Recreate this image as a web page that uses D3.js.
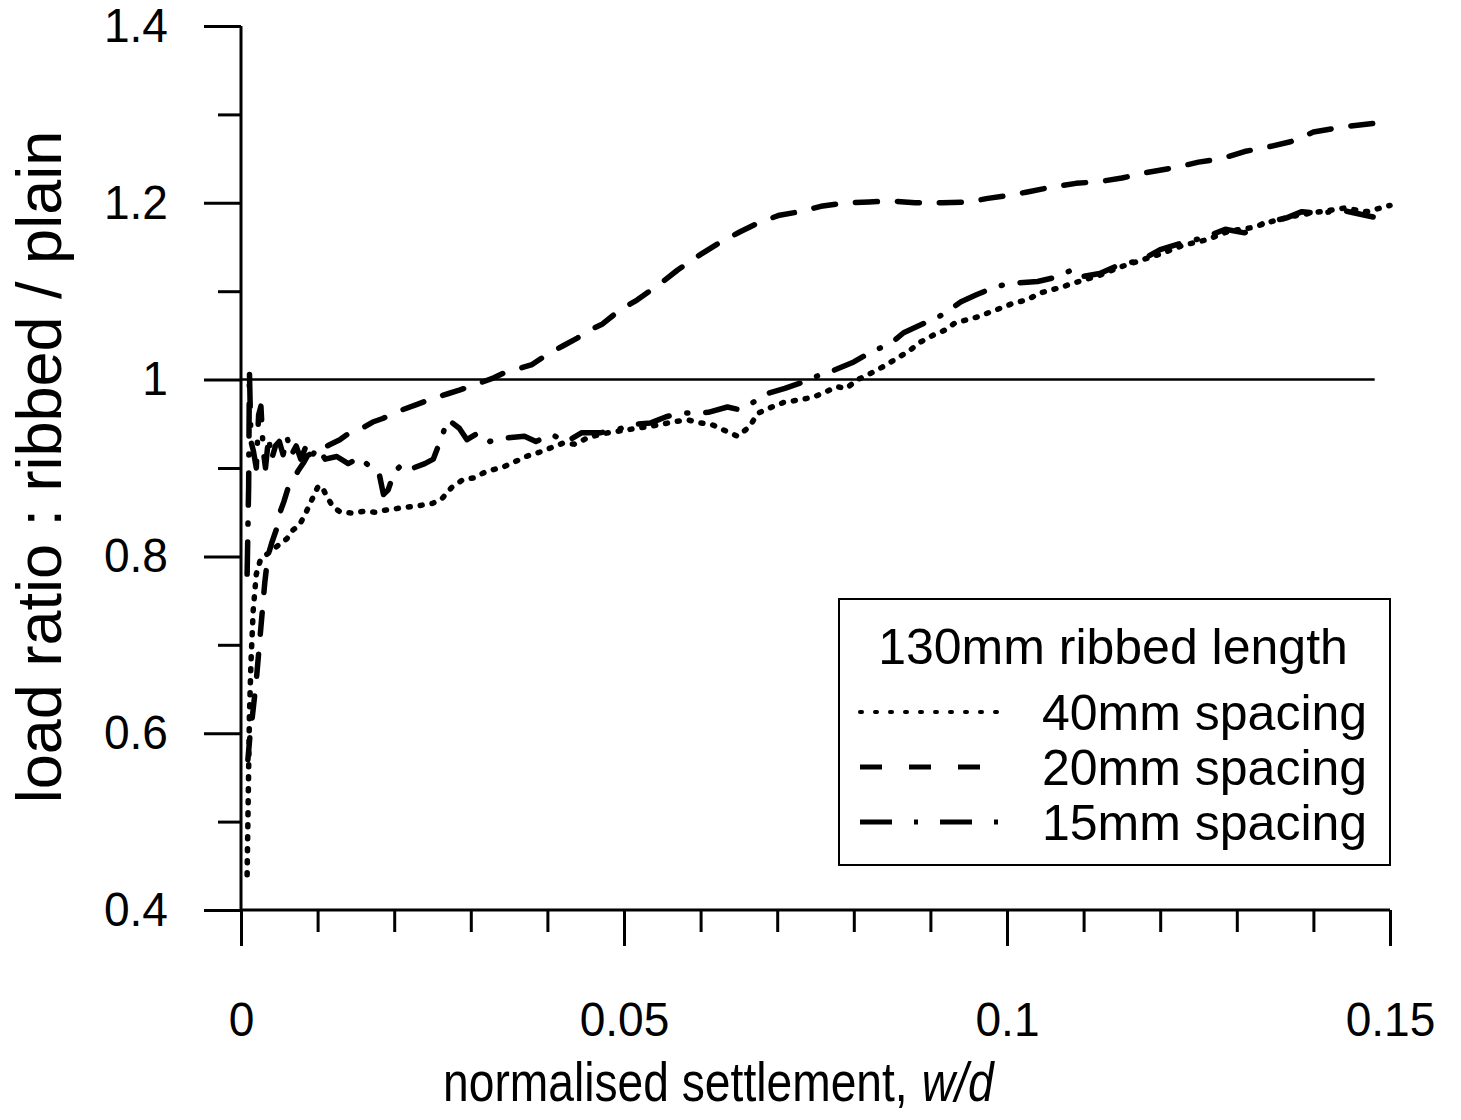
<!DOCTYPE html>
<html>
<head>
<meta charset="utf-8">
<script src="https://cdn.jsdelivr.net/npm/d3@7"></script>
<style>
  body { margin: 0; background: white; }
  text { font-family: "Liberation Sans", Arial, sans-serif; fill: black; }
</style>
</head>
<body>
<script>
// tick values
var yMajor = [0.4, 0.6, 0.8, 1.0, 1.2, 1.4];
var yMinor = [0.5, 0.7, 0.9, 1.1, 1.3];
var xMajor = [0, 0.05, 0.1, 0.15];
var xMinor = [0.01, 0.02, 0.03, 0.04, 0.06, 0.07, 0.08, 0.09, 0.11, 0.12, 0.13, 0.14];
var xLabels = ["0", "0.05", "0.1", "0.15"];
var yLabels = ["0.4", "0.6", "0.8", "1", "1.2", "1.4"];

var seriesNames = ["40mm spacing", "20mm spacing", "15mm spacing"];

// [w/d, load ratio]
var s40 = [[0.0008,0.44],[0.0009,0.50],[0.0010,0.56],[0.0011,0.62],[0.0013,0.68],[0.0016,0.74],
  [0.0020,0.78],[0.0025,0.795],[0.0030,0.80],[0.0038,0.805],[0.0045,0.81],[0.0052,0.815],
  [0.0060,0.82],[0.0068,0.83],[0.0076,0.835],[0.0085,0.85],[0.0093,0.865],[0.0100,0.878],
  [0.0105,0.88],[0.0112,0.868],[0.0120,0.856],[0.0130,0.85],[0.0145,0.849],[0.0160,0.851],
  [0.0175,0.85],[0.0186,0.852],[0.0195,0.853],[0.0210,0.855],[0.0230,0.857],[0.0250,0.86],
  [0.0262,0.865],[0.0275,0.878],[0.0290,0.887],[0.0305,0.889],[0.0320,0.896],[0.0342,0.901],
  [0.0355,0.906],[0.0372,0.913],[0.0390,0.918],[0.0405,0.923],[0.0420,0.928],[0.0435,0.927],
  [0.0455,0.935],[0.0480,0.94],[0.0510,0.944],[0.0540,0.948],[0.0570,0.953],[0.0585,0.954],
  [0.0600,0.951],[0.0615,0.949],[0.0630,0.943],[0.0648,0.936],[0.0663,0.946],[0.0675,0.962],
  [0.0693,0.969],[0.0708,0.974],[0.0728,0.977],[0.0747,0.98],[0.0763,0.986],[0.0778,0.992],
  [0.0790,0.99],[0.0805,1.0],[0.0822,1.007],[0.0837,1.014],[0.0860,1.026],[0.0873,1.033],
  [0.0886,1.042],[0.0903,1.05],[0.0919,1.056],[0.0932,1.064],[0.0962,1.071],[0.0980,1.077],
  [0.0995,1.082],[0.1010,1.087],[0.1026,1.09],[0.1043,1.098],[0.1069,1.104],[0.1090,1.11],
  [0.1121,1.118],[0.1150,1.128],[0.1175,1.135],[0.1200,1.142],[0.1230,1.152],[0.1260,1.158],
  [0.1290,1.168],[0.1320,1.172],[0.1350,1.18],[0.1380,1.186],[0.1410,1.19],[0.1440,1.194],
  [0.1470,1.19],[0.1500,1.197]];

var s20 = [[0.0009,0.57],[0.0012,0.60],[0.0015,0.62],[0.0020,0.66],[0.0024,0.70],[0.0028,0.74],
  [0.0031,0.77],[0.0035,0.80],[0.0040,0.815],[0.0046,0.83],[0.0051,0.85],[0.0056,0.862],
  [0.0061,0.876],[0.0068,0.885],[0.0074,0.896],[0.0081,0.905],[0.0087,0.914],[0.0095,0.918],
  [0.0103,0.921],[0.0115,0.926],[0.0129,0.932],[0.0142,0.94],[0.0158,0.945],[0.0172,0.952],
  [0.0185,0.956],[0.0195,0.96],[0.0211,0.966],[0.0230,0.972],[0.0251,0.979],[0.0270,0.984],
  [0.0285,0.988],[0.0305,0.994],[0.0330,1.002],[0.0342,1.007],[0.0365,1.013],[0.0380,1.017],
  [0.0399,1.028],[0.0420,1.038],[0.0439,1.047],[0.0460,1.058],[0.0472,1.063],[0.0495,1.079],
  [0.0517,1.09],[0.0545,1.107],[0.0570,1.124],[0.0599,1.141],[0.0625,1.155],[0.0651,1.167],
  [0.0677,1.178],[0.0703,1.186],[0.0730,1.19],[0.0757,1.196],[0.0790,1.2],[0.0820,1.201],
  [0.0850,1.202],[0.0880,1.2],[0.0915,1.2],[0.0950,1.201],[0.0975,1.205],[0.1000,1.208],
  [0.1025,1.212],[0.1060,1.218],[0.1090,1.222],[0.1121,1.224],[0.1150,1.228],[0.1180,1.234],
  [0.1220,1.24],[0.1250,1.246],[0.1280,1.25],[0.1310,1.258],[0.1340,1.263],[0.1370,1.269],
  [0.1400,1.28],[0.1440,1.286],[0.1480,1.29]];

var s15 = [[0.0008,0.78],[0.0010,0.88],[0.0011,1.01],[0.0013,0.93],[0.0016,0.92],[0.0020,0.90],
  [0.0023,0.96],[0.0026,0.97],[0.0029,0.92],[0.0032,0.90],[0.0036,0.935],[0.0040,0.91],
  [0.0045,0.925],[0.0050,0.93],[0.0055,0.915],[0.0060,0.935],[0.0066,0.915],[0.0072,0.925],
  [0.0078,0.91],[0.0085,0.925],[0.0092,0.913],[0.0100,0.923],[0.0110,0.91],[0.0125,0.913],
  [0.0140,0.905],[0.0155,0.912],[0.0170,0.90],[0.0180,0.895],[0.0186,0.87],[0.0192,0.875],
  [0.0200,0.895],[0.0211,0.905],[0.0225,0.90],[0.0240,0.905],[0.0251,0.91],[0.0262,0.935],
  [0.0270,0.955],[0.0285,0.945],[0.0295,0.932],[0.0310,0.94],[0.0325,0.93],[0.0345,0.934],
  [0.0370,0.936],[0.0385,0.93],[0.0405,0.938],[0.0425,0.93],[0.0445,0.94],[0.0470,0.94],
  [0.0490,0.943],[0.0510,0.949],[0.0535,0.951],[0.0555,0.958],[0.0575,0.962],[0.0610,0.963],
  [0.0635,0.969],[0.0650,0.966],[0.0660,0.97],[0.0680,0.98],[0.0690,0.985],[0.0710,0.99],
  [0.0730,0.996],[0.0755,1.005],[0.0770,1.009],[0.0800,1.02],[0.0820,1.03],[0.0850,1.042],
  [0.0865,1.053],[0.0895,1.065],[0.0915,1.073],[0.0940,1.088],[0.0960,1.096],[0.0985,1.105],
  [0.1005,1.109],[0.1040,1.111],[0.1060,1.115],[0.1085,1.124],[0.1095,1.116],[0.1121,1.12],
  [0.1147,1.13],[0.1175,1.135],[0.1200,1.147],[0.1230,1.155],[0.1255,1.16],[0.1285,1.17],
  [0.1310,1.166],[0.1335,1.177],[0.1365,1.183],[0.1385,1.19],[0.1410,1.188],[0.1435,1.192],
  [0.1478,1.184]];

var width = 1461,
  height = 1120;
var margin = {
  top: 26,
  bottom: 210,
  left: 241,
  right: 71
};

var svg = d3.select('body')
  .append('svg')
  .attr('width', width)
  .attr('height', height)
  .style('background', 'white');

// squeeze text sideways, the original font is a bit narrow
function condense(sel, k) {
  sel.each(function() {
    var len = this.getComputedTextLength();
    d3.select(this).attr('textLength', len * k).attr('lengthAdjust', 'spacingAndGlyphs');
  });
}

// Define Scales
var xScale = d3.scaleLinear()
  .domain([0, 0.15])
  .range([margin.left, width - margin.right]);

var yScale = d3.scaleLinear()
  .domain([0.4, 1.4])
  .range([height - margin.bottom, margin.top]);

//Draw Axes
svg.append('g')
  .attr("transform", `translate(${margin.left},0)`)
  .call(d3.axisLeft(yScale).tickValues(yMinor).tickSize(23).tickFormat(""));

svg.append('g')
  .attr("transform", `translate(${margin.left},0)`)
  .call(d3.axisLeft(yScale).tickValues(yMajor).tickSize(37).tickPadding(36)
    .tickFormat(function(d, i) { return yLabels[i]; }));

svg.append('g')
  .attr("transform", `translate(0,${height - margin.bottom})`)
  .call(d3.axisBottom(xScale).tickValues(xMinor).tickSize(22).tickFormat(""));

svg.append('g')
  .attr("transform", `translate(0,${height - margin.bottom})`)
  .call(d3.axisBottom(xScale).tickValues(xMajor).tickSize(36).tickPadding(56)
    .tickFormat(function(d, i) { return xLabels[i]; }));

svg.selectAll('.domain').remove();
svg.selectAll('.tick line').attr('stroke', 'black').attr('stroke-width', 3);
svg.selectAll('.tick text')
  .style('font-size', '48px')
  .style('font-family', '"Liberation Sans", Arial, sans-serif')
  .attr('fill', 'black')
  .call(condense, 0.96);

svg.append('line')
  .attr('x1', margin.left).attr('x2', margin.left)
  .attr('y1', yScale(1.4)).attr('y2', yScale(0.4))
  .attr('stroke', 'black').attr('stroke-width', 3);
svg.append('line')
  .attr('x1', xScale(0)).attr('x2', xScale(0.15))
  .attr('y1', yScale(0.4)).attr('y2', yScale(0.4))
  .attr('stroke', 'black').attr('stroke-width', 3);

// reference line at ratio 1
svg.append('line')
  .attr('x1', xScale(0)).attr('x2', xScale(0.148))
  .attr('y1', yScale(1)).attr('y2', yScale(1))
  .attr('stroke', 'black').attr('stroke-width', 2.5);

//Draw lines
var line = d3.line()
  .x(function(d) { return xScale(d[0]); })
  .y(function(d) { return yScale(d[1]); });

var styles = [
  { data: s40, dash: "2,10" },
  { data: s20, dash: "22,20" },
  { data: s15, dash: "32,18,1,18" }
];

styles.forEach(function(s) {
  svg.append('path')
    .datum(s.data)
    .attr('d', line)
    .attr('fill', 'none')
    .attr('stroke', 'black')
    .attr('stroke-width', 5.5)
    .attr('stroke-linecap', 'round')
    .attr('stroke-linejoin', 'round')
    .attr('stroke-dasharray', s.dash);
});

// Axis titles (plain part + italic w/d), squeezed with a scale transform
var k = 0.84;
var xt1 = svg.append('text')
  .attr('transform', 'translate(443,1101) scale(' + k + ',1)')
  .style('font-size', '55px')
  .text('normalised settlement,');
var len1 = xt1.node().getComputedTextLength();
svg.append('text')
  .attr('transform', 'translate(' + (443 + len1 * k + 14) + ',1101) scale(' + k + ',1)')
  .style('font-size', '55px')
  .style('font-style', 'italic')
  .text('w/d');

svg.append('text')
  .attr('transform', 'translate(61,467) rotate(-90)')
  .attr('text-anchor', 'middle')
  .style('font-size', '63px')
  .text('load ratio : ribbed / plain');

// Handmade legend
var legX = 839, legY = 599, legW = 551, legH = 266;
svg.append('rect')
  .attr('x', legX).attr('y', legY).attr('width', legW).attr('height', legH)
  .attr('fill', 'white').attr('stroke', 'black').attr('stroke-width', 2);
svg.append('text')
  .attr('x', 1113).attr('y', 664)
  .attr('text-anchor', 'middle')
  .style('font-size', '50px')
  .text('130mm ribbed length');
var rowY = [712, 767, 822];
var legDash = ["2,13", "22,27", "32,22,4,22"];
seriesNames.forEach(function(name, i) {
  svg.append('line')
    .attr('x1', 860).attr('x2', 998)
    .attr('y1', rowY[i]).attr('y2', rowY[i])
    .attr('stroke', 'black')
    .attr('stroke-width', i == 0 ? 4 : 5)
    .attr('stroke-linecap', i == 0 ? 'round' : 'butt')
    .attr('stroke-dasharray', legDash[i]);
  svg.append('text')
    .attr('x', 1042).attr('y', rowY[i] + 18)
    .style('font-size', '50px')
    .text(name);
});
</script>
</body>
</html>
